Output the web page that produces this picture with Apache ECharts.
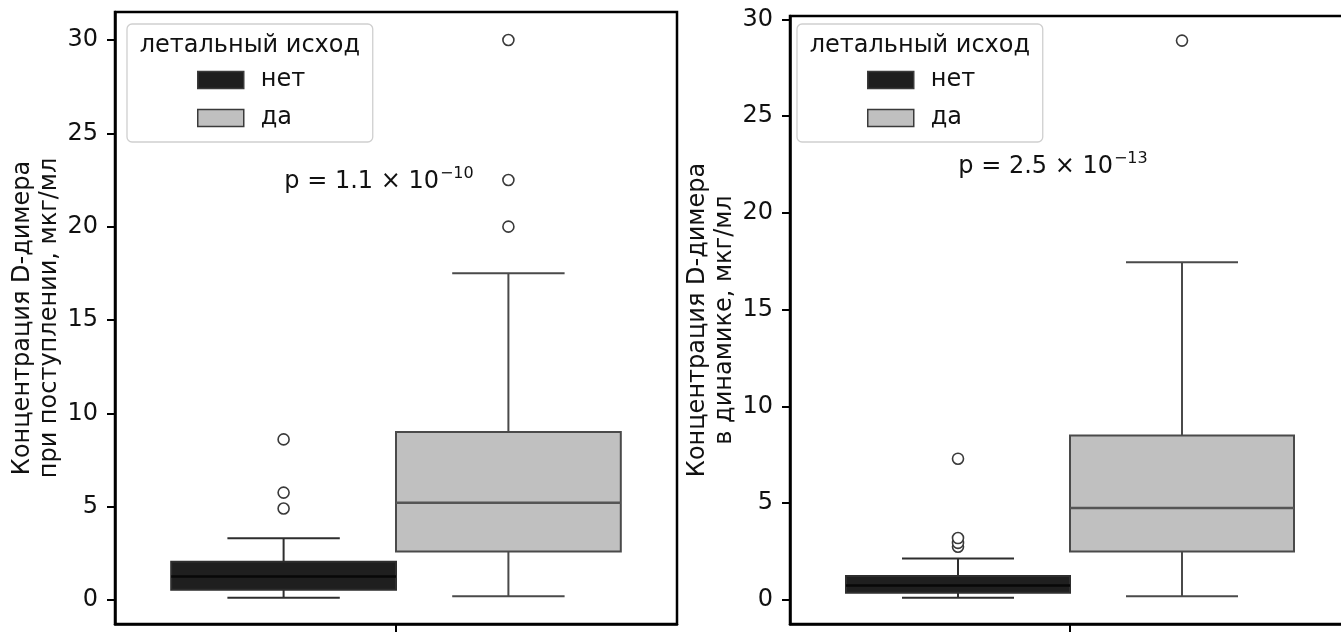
<!DOCTYPE html>
<html>
<head>
<meta charset="utf-8">
<script src="https://cdn.jsdelivr.net/npm/echarts@6/dist/echarts.min.js"></script>
<style>
html,body{margin:0;padding:0;background:#fff;overflow:hidden;}
#main{width:1341px;height:632px;}
</style>
</head>
<body>
<div id="main"></div>
<script>
// ---- data ----
const hueNames = ['нет', 'да'];
const legendTitle = 'летальный исход';
const yTicks = [0, 5, 10, 15, 20, 25, 30];
const yNames = ['Концентрация D-димера\nпри поступлении, мкг/мл', 'Концентрация D-димера\nв динамике, мкг/мл'];
// [category, min, Q1, median, Q3, max]
const admitNo  = [[0, 0.12, 0.55, 1.25, 2.05, 3.3]];
const admitYes = [[0, 0.2, 2.6, 5.2, 9.0, 17.5]];
const admitNoOut  = [[0, 4.9], [0, 5.75], [0, 8.6]];
const admitYesOut = [[0, 20.0], [0, 22.5], [0, 30.0]];
const dynNo  = [[0, 0.12, 0.37, 0.75, 1.24, 2.15]];
const dynYes = [[0, 0.2, 2.5, 4.75, 8.5, 17.45]];
const dynNoOut  = [[0, 2.75], [0, 2.95], [0, 3.2], [0, 7.3]];
const dynYesOut = [[0, 28.9]];
const pMantissa = ['p = 1.1 × 10', 'p = 2.5 × 10'];
const pExponent = ['−10', '−13'];
const pYValue = [22.5, 22.5];
const yMin = [-1.29, -1.24];
const yMax = [31.5, 30.17];

// ---- styles ----
const FONT = 'DejaVu Sans';
const FS = 24;
const hueStyle = [
  {fill: '#1f1f1f', line: '#2e2e2e', median: '#080808', offset: -0.2},
  {fill: '#c0c0c0', line: '#4a4a4a', median: '#555555', offset: 0.2}
];

function boxRender(h) {
  const st = hueStyle[h];
  return function (params, api) {
    const bw = api.size([1, 0])[0];
    const cx = api.coord([api.value(0), 0])[0] + st.offset * bw;
    const half = 0.2 * bw;
    const cap = half / 2;
    const y = i => api.coord([api.value(0), api.value(i)])[1];
    const yMn = y(1), yQ1 = y(2), yMd = y(3), yQ3 = y(4), yMx = y(5);
    const ls = {stroke: st.line, lineWidth: 2};
    return {
      type: 'group',
      children: [
        {type: 'line', shape: {x1: cx, y1: yQ1, x2: cx, y2: yMn}, style: ls},
        {type: 'line', shape: {x1: cx, y1: yQ3, x2: cx, y2: yMx}, style: ls},
        {type: 'line', shape: {x1: cx - cap, y1: yMn, x2: cx + cap, y2: yMn}, style: ls},
        {type: 'line', shape: {x1: cx - cap, y1: yMx, x2: cx + cap, y2: yMx}, style: ls},
        {type: 'rect', shape: {x: cx - half, y: yQ3, width: 2 * half, height: yQ1 - yQ3},
          style: {fill: st.fill, stroke: st.line, lineWidth: 2}},
        {type: 'line', shape: {x1: cx - half, y1: yMd, x2: cx + half, y2: yMd},
          style: {stroke: st.median, lineWidth: 2.5}}
      ]
    };
  };
}
function outRender(h) {
  const st = hueStyle[h];
  return function (params, api) {
    const bw = api.size([1, 0])[0];
    const p = api.coord([api.value(0), api.value(1)]);
    return {type: 'circle', shape: {cx: p[0] + st.offset * bw, cy: p[1], r: 5.5},
      style: {fill: '#fff', stroke: '#3a3a3a', lineWidth: 1.6}};
  };
}

const grids = [
  {left: 115, top: 12, width: 562, height: 612, show: true, borderColor: '#000', borderWidth: 2.5,
    backgroundColor: 'transparent', outerBoundsMode: 'none', containLabel: false},
  {left: 790, top: 16, width: 560, height: 608, show: true, borderColor: '#000', borderWidth: 2.5,
    backgroundColor: 'transparent', outerBoundsMode: 'none', containLabel: false}
];
const xAxes = [0, 1].map(g => ({
  type: 'category', gridIndex: g, data: [''], boundaryGap: true,
  axisLine: {show: true, onZero: false, lineStyle: {color: '#000', width: 2.5}},
  axisTick: {show: true, alignWithLabel: true, length: 8, lineStyle: {color: '#000', width: 2}},
  axisLabel: {show: false}, splitLine: {show: false}
}));
const yAxes = [0, 1].map(g => ({
  type: 'value', gridIndex: g, min: yMin[g], max: yMax[g],
  name: yNames[g], nameLocation: 'middle', nameGap: 46, nameRotate: 90,
  nameTextStyle: {fontFamily: FONT, fontSize: FS, lineHeight: 27, color: '#111', align: 'center'},
  axisLine: {show: true, onZero: false, lineStyle: {color: '#000', width: 2.5}},
  axisTick: {show: true, length: 8, lineStyle: {color: '#000', width: 2}, customValues: yTicks},
  axisLabel: {fontFamily: FONT, fontSize: FS, color: '#111', margin: 17, customValues: yTicks},
  splitLine: {show: false}
}));

const boxSets = [
  [admitNo, admitYes, admitNoOut, admitYesOut],
  [dynNo, dynYes, dynNoOut, dynYesOut]
];
const series = [];
boxSets.forEach((set, g) => {
  [0, 1].forEach(h => {
    series.push({
      type: 'custom', name: hueNames[h], xAxisIndex: g, yAxisIndex: g,
      renderItem: boxRender(h), data: set[h], encode: {x: 0, y: [1, 2, 3, 4, 5]},
      itemStyle: {color: hueStyle[h].fill}, silent: true, z: 2
    });
    series.push({
      type: 'custom', name: 'out_' + g + '_' + h, xAxisIndex: g, yAxisIndex: g,
      renderItem: outRender(h), data: set[2 + h], encode: {x: 0, y: 1}, silent: true, z: 3
    });
  });
});

const legendLeft = [127, 797];
const legendTop = [24, 24];
const legends = [0, 1].map(g => ({
  orient: 'vertical', left: legendLeft[g], top: legendTop[g],
  padding: [44, 12, 12, 70], itemGap: 14, itemWidth: 46, itemHeight: 17,
  backgroundColor: 'rgba(255,255,255,0.85)', borderColor: '#cfcfcf', borderWidth: 1.3, borderRadius: 5,
  icon: 'rect', selectedMode: false,
  textStyle: {fontFamily: FONT, fontSize: FS, color: '#111', lineHeight: 20, width: 100, padding: [0, 0, 0, 12]},
  data: hueNames.map((n, h) => ({name: n, itemStyle: {color: hueStyle[h].fill, borderColor: '#3a3a3a', borderWidth: 1.5}}))
}));

const chart = echarts.init(document.getElementById('main'), null, {renderer: 'canvas'});
chart.setOption({
  animation: false,
  backgroundColor: '#fff',
  grid: grids, xAxis: xAxes, yAxis: yAxes, legend: legends, series: series
});

const graphics = [];
[0, 1].forEach(g => {
  const lg = chart.getModel().getComponent('legend', g);
  const view = chart.getViewOfComponentModel(lg);
  const r = view.group.getBoundingRect();
  const cxL = view.group.x + r.x + r.width / 2;
  graphics.push({type: 'text', x: cxL, y: legendTop[g] + 10, z: 100,
    style: {text: legendTitle, fontFamily: FONT, fontSize: FS, fill: '#111', align: 'center'}});
  const p = chart.convertToPixel({xAxisIndex: g, yAxisIndex: g}, [0, pYValue[g]]);
  graphics.push({type: 'text', x: p[0] - 17, y: p[1], z: 100,
    style: {
      text: '{a|' + pMantissa[g] + '}{s|' + pExponent[g] + '}',
      align: 'center', verticalAlign: 'middle',
      rich: {
        a: {fontFamily: FONT, fontSize: FS, fill: '#111', lineHeight: 28, verticalAlign: 'bottom'},
        s: {fontFamily: FONT, fontSize: 16, fill: '#111', lineHeight: 28, verticalAlign: 'top', padding: [0, 0, 9, 1]}
      }
    }});
});
chart.setOption({graphic: graphics});
</script>
</body>
</html>
